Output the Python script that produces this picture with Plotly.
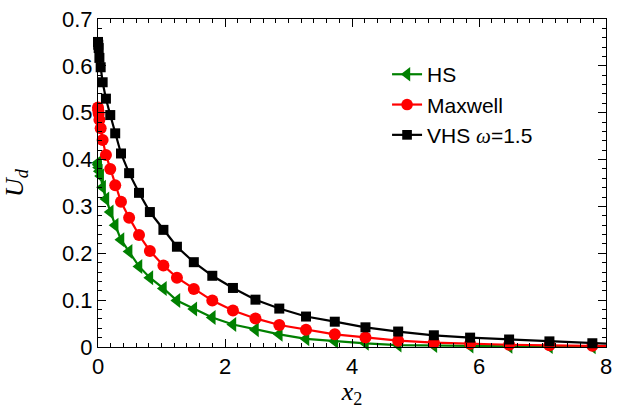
import plotly.graph_objects as go

# Wall-normal coordinate (stretched grid, dense near the wall)
x2 = [0.0, 0.004, 0.011, 0.022, 0.042, 0.073, 0.125, 0.193, 0.271, 0.362,
      0.49, 0.646, 0.817, 1.03, 1.243, 1.509, 1.80, 2.125, 2.48, 2.855,
      3.276, 3.729, 4.212, 4.727, 5.289, 5.86, 6.474, 7.109, 7.785, 8.0]

# Drift velocity profiles for the three molecular models
ud_hs = [0.393, 0.389, 0.383, 0.375, 0.365, 0.341, 0.316, 0.288, 0.260, 0.229,
         0.204, 0.172, 0.148, 0.125, 0.099, 0.081, 0.063, 0.048, 0.037, 0.027,
         0.0175, 0.0125, 0.0078, 0.0042, 0.003, 0.0022, 0.0015, 0.001, 0.0007, 0.0006]
ud_maxwell = [0.511, 0.505, 0.498, 0.485, 0.467, 0.442, 0.410, 0.380, 0.345, 0.310,
              0.276, 0.239, 0.205, 0.174, 0.148, 0.124, 0.099, 0.078, 0.061, 0.047,
              0.037, 0.027, 0.0205, 0.0135, 0.0095, 0.0068, 0.0048, 0.0035, 0.0025, 0.002]
ud_vhs = [0.651, 0.645, 0.638, 0.617, 0.597, 0.565, 0.530, 0.495, 0.456, 0.413,
          0.371, 0.329, 0.288, 0.250, 0.214, 0.181, 0.152, 0.126, 0.101, 0.082,
          0.065, 0.054, 0.042, 0.033, 0.025, 0.020, 0.016, 0.012, 0.008, 0.007]

series = [
    ("HS", ud_hs, "#008000", "triangle-left", 13),
    ("Maxwell", ud_maxwell, "#ff0000", "circle", 12),
    ("VHS <span style=\"font-family:'Liberation Serif'\"><i>ω</i></span>=1.5",
     ud_vhs, "#000000", "square", 10),
]

fig = go.Figure()
for name, ys, color, symbol, size in series:
    # no symbol on the closing point at the domain end
    sizes = [size] * (len(x2) - 1) + [0]
    fig.add_trace(go.Scatter(
        x=x2, y=ys, name=name, mode="lines+markers",
        line=dict(color=color, width=2.2),
        marker=dict(symbol=symbol, size=sizes, color=color, opacity=1,
                    line=dict(width=0)),
        cliponaxis=False,
    ))

axis_common = dict(
    showline=True, linecolor="black", linewidth=1, mirror="allticks",
    ticks="inside", ticklen=8, tickwidth=1, tickcolor="black",
    showgrid=False, zeroline=False,
    tickfont=dict(family="Liberation Sans", size=22, color="black"),
)

fig.update_xaxes(
    range=[0, 8], dtick=2, tick0=0,
    minor=dict(ticks="inside", ticklen=4, dtick=0.2, tickcolor="black"),
    title=dict(text="<i>x</i><sub>2</sub>",
               font=dict(family="Liberation Serif", size=26, color="black"),
               standoff=4),
    **axis_common,
)
fig.update_yaxes(
    range=[0, 0.7], dtick=0.1, tick0=0,
    minor=dict(ticks="inside", ticklen=4, dtick=0.02, tickcolor="black"),
    title=dict(text="<i>U</i><sub><i>d</i></sub>",
               font=dict(family="Liberation Serif", size=26, color="black"),
               standoff=32),
    **axis_common,
)

fig.update_layout(
    width=619, height=409,
    margin=dict(l=98, r=7, t=14, b=62),
    paper_bgcolor="white", plot_bgcolor="white",
    showlegend=True,
    legend=dict(x=0.569, y=0.893, xanchor="left", yanchor="top",
                bgcolor="rgba(0,0,0,0)", itemwidth=30,
                font=dict(family="Liberation Sans", size=21, color="black")),
)

fig.write_html("out.html")
